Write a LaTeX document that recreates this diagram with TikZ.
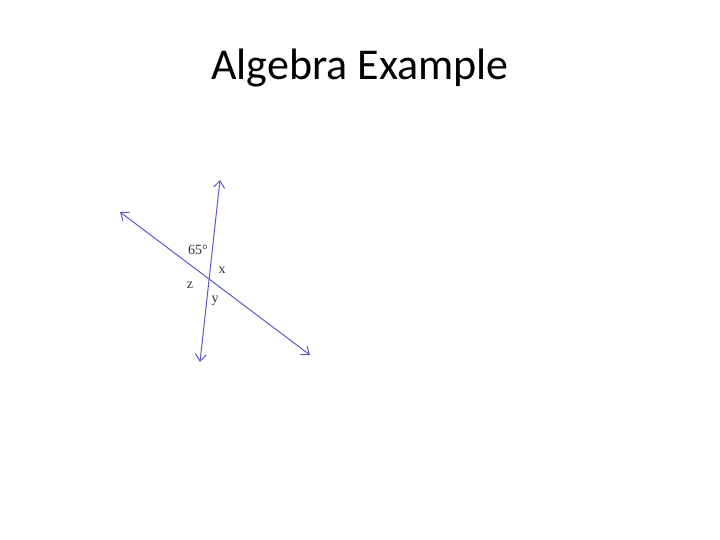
\documentclass[tikz,border=0pt]{standalone}
\usepackage{fontspec}
\setmainfont{Carlito}
\newfontfamily\labelfont{Liberation Serif}
\usetikzlibrary{arrows.meta}

\definecolor{lineblue}{RGB}{90,90,200}

\tikzset{
  transversal/.style={draw=lineblue, line width=1pt, {Straight Barb[length=7pt,width=11pt]}-{Straight Barb[length=7pt,width=11pt]}},
  anglelabel/.style={inner sep=0pt, font=\labelfont\fontsize{14}{14}\selectfont, text=black!80}
}

\begin{document}
\begin{tikzpicture}[x=1pt, y=-1pt]
  \useasboundingbox[fill=white] (0,0) rectangle (720,540);

  % title
  \node[anchor=base, font=\fontsize{44}{52}\selectfont] (title) at (360,80) {Algebra Example};

  % end points of the two lines
  \coordinate (aleft) at (120,212);
  \coordinate (aright) at (310,355);
  \coordinate (btop) at (220,180);
  \coordinate (bbottom) at (200,362);

  % intersecting lines
  \draw[transversal] (aleft) -- (aright);
  \draw[transversal] (btop) -- (bbottom);

  % angle labels
  \node[anglelabel] (ang65) at (198,250) {65°};
  \node[anglelabel] (angx) at (222,270) {x};
  \node[anglelabel] (angz) at (190,285) {z};
  \node[anglelabel] (angy) at (215,301) {y};
\end{tikzpicture}
\end{document}
